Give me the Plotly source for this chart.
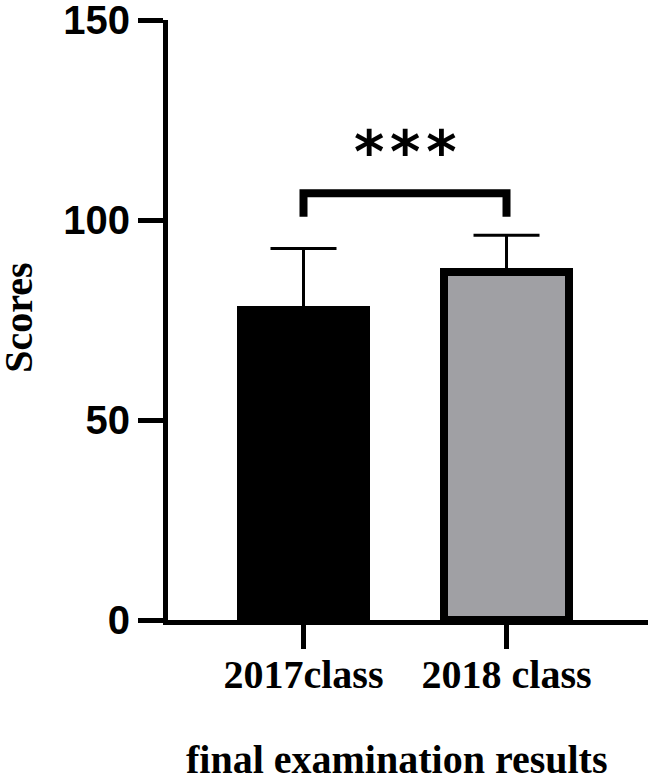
import plotly.graph_objects as go

# data
categories = ["2017class", "2018 class"]
means = [77.6, 87.1]
sd_upper = [15.3, 9.1]
bar_colours = ["#000000", "#A0A0A4"]
y_ticks = [0, 50, 100, 150]
bracket_x = [0, 0, 1, 1]
bracket_y = [100.8, 106.7, 106.7, 100.8]
star_label = "*\u200a*\u200a*"
star_y = 117

SANS = "Liberation Sans"
SERIF = "Liberation Serif"

fig = go.Figure()

fig.add_trace(go.Bar(
    x=[0, 1],
    y=means,
    width=0.62,
    marker=dict(color=bar_colours, line=dict(color="black", width=8)),
    error_y=dict(type="data", symmetric=False, array=sd_upper, arrayminus=[0, 0],
                 color="black", thickness=3, width=33),
    showlegend=False,
))

# significance bracket
fig.add_trace(go.Scatter(
    x=bracket_x, y=bracket_y, mode="lines",
    line=dict(color="black", width=8),
    showlegend=False, hoverinfo="skip",
))

fig.add_annotation(x=0.5, y=star_y, text="<b>" + star_label + "</b>", showarrow=False,
                   yanchor="middle", font=dict(family="DejaVu Sans", size=58, color="black"))

fig.add_annotation(xref="paper", yref="paper", x=-0.313, y=(620 - 318) / 600, text="<b>Scores</b>",
                   textangle=-90, showarrow=False, xanchor="center", yanchor="middle",
                   font=dict(family=SERIF, size=40, color="black"))

fig.add_annotation(xref="paper", yref="paper", x=0.478, y=-0.233, text="<b>final examination results</b>",
                   showarrow=False, xanchor="center", yanchor="middle",
                   font=dict(family=SERIF, size=40, color="black"))

fig.update_layout(
    width=648, height=776,
    margin=dict(l=168, r=0, t=20, b=156, autoexpand=False),
    plot_bgcolor="white", paper_bgcolor="white",
    bargap=0,
    xaxis=dict(
        range=[-0.6675, 1.697],
        tickmode="array", tickvals=[0, 1],
        ticktext=["<b>" + c + "</b>" for c in categories],
        tickfont=dict(family=SERIF, size=40, color="black"),
        ticks="outside", ticklen=24, tickwidth=5, tickcolor="black",
        ticklabelstandoff=-9,
        showline=True, linecolor="black", linewidth=5,
        showgrid=False, zeroline=False, automargin=False,
    ),
    yaxis=dict(
        range=[0, 150],
        tickmode="array", tickvals=y_ticks,
        ticktext=["<b>" + str(t) + "</b>" for t in y_ticks],
        tickfont=dict(family=SANS, size=40, color="black"),
        ticks="outside", ticklen=25, tickwidth=5, tickcolor="black",
        showline=True, linecolor="black", linewidth=5,
        showgrid=False, zeroline=False, automargin=False,
        ticklabeloverflow="allow",
    ),
)

# drop the page's default body margin so the figure sits at the window corner
fig.write_html("out.html", config={"displayModeBar": False},
               post_script="document.body.style.margin='0';")
